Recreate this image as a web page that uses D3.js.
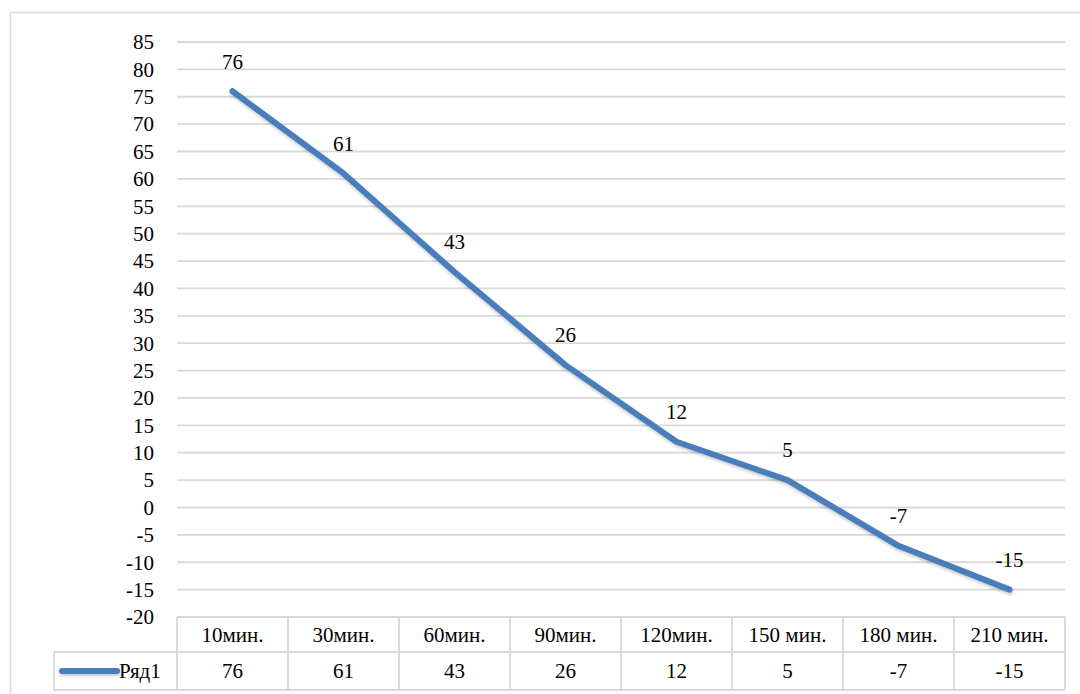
<!DOCTYPE html>
<html>
<head>
<meta charset="utf-8">
<script src="https://cdn.jsdelivr.net/npm/d3@7"></script>
</head>
<body style="margin:0">
<svg id="chart" width="1080" height="694"></svg>
<script>
// Chart data
const categories = ["10мин.", "30мин.", "60мин.", "90мин.", "120мин.", "150 мин.", "180 мин.", "210 мин."];
const values = [76, 61, 43, 26, 12, 5, -7, -15];
const seriesName = "Ряд1";
const yTicks = d3.range(-20, 86, 5);

const svg = d3.select("#chart");
const gridColor = "#d9d9d9";
const lineColor = "#4a7ebb";
const fontSize = "21px";
const fontFamily = "Times New Roman";

// Plot geometry
const plot = { left: 177, right: 1065, top: 42, bottom: 617 };
const rowH = { cat: 35, val: 38 };
const legendLeft = 54;

const x = d3.scaleBand().domain(categories).range([plot.left, plot.right]);
const y = d3.scaleLinear().domain([-20, 85]).range([plot.bottom, plot.top]);
const cx = c => x(c) + x.bandwidth() / 2;

// Adds a text element straight onto the svg with the shared font
function label(px, py, str, anchor) {
  return svg.append("text")
    .attr("x", px).attr("y", py).attr("dy", "0.35em")
    .attr("text-anchor", anchor)
    .style("font-family", fontFamily)
    .style("font-size", fontSize)
    .style("fill", "#000")
    .text(str);
}

// Soft shadow under the series line
const defs = svg.append("defs");
const f = defs.append("filter").attr("id", "shadow")
  .attr("filterUnits", "userSpaceOnUse")
  .attr("x", 0).attr("y", 0).attr("width", 1080).attr("height", 694);
f.append("feDropShadow").attr("dx", 0.5).attr("dy", 2).attr("stdDeviation", 1.5)
  .attr("flood-color", "#000").attr("flood-opacity", 0.22);

// Chart area border
svg.append("rect")
  .attr("x", 10.5).attr("y", 12.5)
  .attr("width", 1100).attr("height", 800)
  .attr("fill", "none").attr("stroke", gridColor).attr("stroke-width", 1.5);

// Horizontal gridlines
svg.append("g").selectAll("line").data(yTicks).join("line")
  .attr("x1", plot.left).attr("x2", plot.right)
  .attr("y1", d => y(d)).attr("y2", d => y(d))
  .attr("stroke", gridColor).attr("stroke-width", 1.8);

// Value axis labels, placed by the y scale
yTicks.forEach(t => label(plot.left - 23, y(t), String(t), "end"));

// Data table below the plot
const tbl = svg.append("g").attr("stroke", gridColor).attr("stroke-width", 1.8);
const catTop = plot.bottom, catBot = plot.bottom + rowH.cat, valBot = catBot + rowH.val;
tbl.append("line").attr("x1", plot.left).attr("x2", plot.right).attr("y1", catTop).attr("y2", catTop);
tbl.append("line").attr("x1", legendLeft).attr("x2", plot.right).attr("y1", catBot).attr("y2", catBot);
tbl.append("line").attr("x1", legendLeft).attr("x2", plot.right).attr("y1", valBot).attr("y2", valBot);
tbl.append("line").attr("x1", legendLeft).attr("x2", legendLeft).attr("y1", catBot).attr("y2", valBot);
const bounds = categories.map(c => x(c)).concat([plot.right]);
tbl.selectAll("line.v").data(bounds).join("line").attr("class", "v")
  .attr("x1", d => d).attr("x2", d => d).attr("y1", catTop).attr("y2", valBot);

// Category header row and values row
categories.forEach((c, i) => {
  label(cx(c), (catTop + catBot) / 2, c, "middle");
  label(cx(c), (catBot + valBot) / 2, String(values[i]), "middle");
});

// Legend key in the table
svg.append("line")
  .attr("x1", 62).attr("x2", 117)
  .attr("y1", (catBot + valBot) / 2).attr("y2", (catBot + valBot) / 2)
  .attr("stroke", lineColor).attr("stroke-width", 6).attr("stroke-linecap", "round")
  .attr("filter", "url(#shadow)");
label(119, (catBot + valBot) / 2, seriesName, "start");

// Series line
const line = d3.line()
  .x((d, i) => cx(categories[i]))
  .y(d => y(d));

svg.append("path")
  .datum(values)
  .attr("d", line)
  .attr("fill", "none")
  .attr("stroke", lineColor)
  .attr("stroke-width", 6)
  .attr("stroke-linecap", "round")
  .attr("stroke-linejoin", "round")
  .attr("filter", "url(#shadow)");

// Data labels above each point
values.forEach((v, i) => label(cx(categories[i]), y(v) - 30, String(v), "middle"));
</script>
</body>
</html>
